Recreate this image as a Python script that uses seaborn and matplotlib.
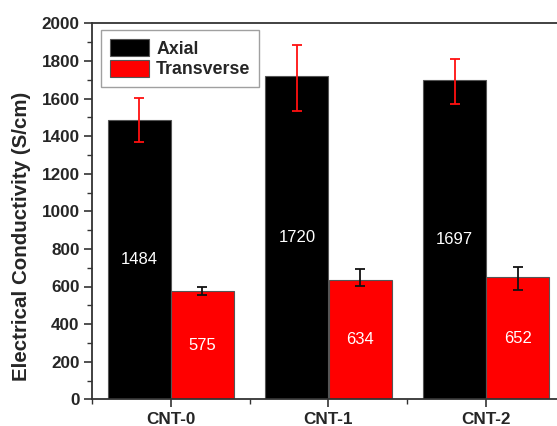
import matplotlib
matplotlib.use("Agg")
import matplotlib.pyplot as plt
from matplotlib.ticker import MultipleLocator
import numpy as np
import pandas as pd
import seaborn as sns

# Samples and measured conductivities (S/cm)
samples = ["CNT-0", "CNT-1", "CNT-2"]
axial = [1484, 1720, 1697]
transverse = [575, 634, 652]
# Error bar ends (lower, upper)
axial_lo = [1367, 1534, 1571]
axial_hi = [1605, 1883, 1810]
transverse_lo = [555, 604, 582]
transverse_hi = [597, 692, 702]
directions = ["Axial", "Transverse"]

sns.set_theme(style="white")
plt.rcParams["font.family"] = ["Liberation Sans", "DejaVu Sans"]

df = pd.DataFrame({
    "sample": samples * 2,
    "direction": [directions[0]] * 3 + [directions[1]] * 3,
    "value": axial + transverse,
})

fig = plt.figure(figsize=(5.57, 4.26), dpi=100)
ax = fig.add_axes([92 / 557, (426 - 399.3) / 426, 473 / 557, 376 / 426])

sns.barplot(data=df, x="sample", y="value", hue="direction",
            palette=["#000000", "#ff0000"], errorbar=None, width=0.8,
            edgecolor="#555555", linewidth=0.8, saturation=1, ax=ax)

# Error bars and value labels placed on each bar's centre
series = [
    (axial, axial_lo, axial_hi, "#ff1010"),
    (transverse, transverse_lo, transverse_hi, "#111111"),
]
bars = [p for p in ax.patches if p.get_height() > 0]
bars = sorted(bars, key=lambda p: p.get_x())
centers = [b.get_x() + b.get_width() / 2 for b in bars]
axial_x = centers[0::2]
trans_x = centers[1::2]
for xs, (vals, lo, hi, col) in zip([axial_x, trans_x], series):
    vals = np.array(vals)
    yerr = np.vstack([vals - np.array(lo), np.array(hi) - vals])
    ax.errorbar(xs, vals, yerr=yerr, fmt="none", ecolor=col,
                elinewidth=1.3, capsize=3.5, capthick=1.3, zorder=5)
    for x, v in zip(xs, vals):
        ax.text(x, v / 2, f"{v}", color="white", fontsize=12,
                ha="center", va="center", zorder=6)

ax.set_xlim(-0.5, 2.5)
ax.set_ylim(0, 2000)
ax.yaxis.set_major_locator(MultipleLocator(200))
ax.yaxis.set_minor_locator(MultipleLocator(100))
ax.xaxis.set_minor_locator(MultipleLocator(1.0, offset=0.5))

ax.set_xlabel("")
ax.set_ylabel("Electrical Conductivity (S/cm)", fontsize=14.8, fontweight="bold")
ax.yaxis.set_label_coords(-0.128, 0.434)

for lbl in ax.get_xticklabels() + ax.get_yticklabels():
    lbl.set_fontweight("bold")
    lbl.set_fontsize(12.3)

ax.tick_params(axis="both", which="major", direction="out", length=6,
               width=1.2, color="#333333", bottom=True, left=True, pad=3)
ax.tick_params(axis="both", which="minor", direction="out", length=3.5,
               width=1.0, color="#333333", bottom=True, left=True)

for side in ["left", "bottom", "top"]:
    ax.spines[side].set_visible(True)
    ax.spines[side].set_color("#333333")
    ax.spines[side].set_linewidth(1.3)
ax.spines["right"].set_visible(False)

leg = ax.legend(loc="upper left", bbox_to_anchor=(0.019, 0.982),
                borderaxespad=0, frameon=True, fancybox=False,
                edgecolor="#888888", handlelength=2.2, handleheight=1.1,
                handletextpad=0.4, labelspacing=0.12, borderpad=0.5,
                prop={"weight": "bold", "size": 12.8}, title=None)
leg.get_frame().set_linewidth(1.0)

fig.savefig("out.png", dpi=100)
